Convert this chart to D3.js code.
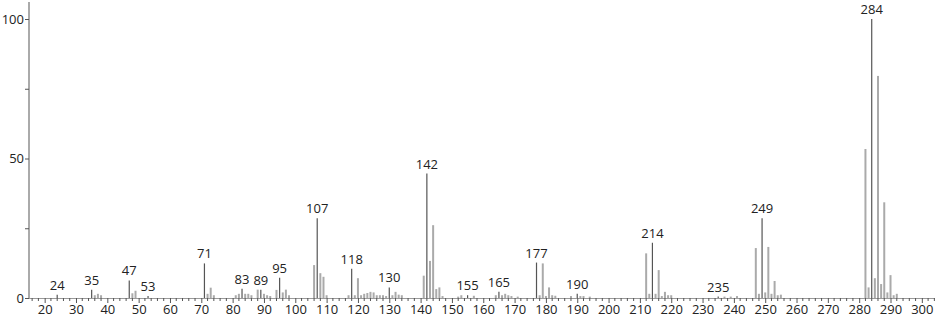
<!DOCTYPE html>
<html>
<head>
<meta charset="utf-8">
<script src="https://cdn.jsdelivr.net/npm/d3@7"></script>
<style>
  body { margin: 0; background: #fff; }
  svg text { font-family: "Open Sans", sans-serif; font-size: 13px; fill: #222; }
</style>
</head>
<body>
<svg id="spectrum" width="940" height="320"></svg>
<script>
const svg = d3.select("#spectrum");

// m/z and relative intensity
const mz = [24, 35, 36, 37, 38, 47, 48, 49, 53, 71, 72, 73, 74,
  81, 82, 83, 84, 85, 86, 88, 89, 90, 91, 92, 94, 95, 96, 97, 98,
  106, 107, 108, 109, 110, 117, 118, 119, 120, 121, 122, 123, 124, 125, 126, 127, 128, 129,
  130, 131, 132, 133, 134, 141, 142, 143, 144, 145, 146, 147,
  152, 153, 155, 157, 164, 165, 166, 167, 168, 169, 171,
  177, 178, 179, 180, 181, 182, 183, 188, 190, 191, 192, 194,
  212, 213, 214, 215, 216, 217, 218, 219, 220, 235, 237, 239, 241,
  247, 248, 249, 250, 251, 252, 253, 254, 255,
  282, 283, 284, 285, 286, 287, 288, 289, 290, 291, 292];
const intensity = [1.2, 3, 1, 1.5, 1, 6.3, 1.7, 2.6, 0.7, 12.4, 1.5, 3.7, 1,
  1, 1.5, 3.3, 1.5, 1.5, 1, 3, 3, 1.5, 1, 0.7, 2.9, 7.3, 2, 3, 1,
  11.8, 28.6, 8.9, 7.6, 1, 1, 10.5, 1, 7.1, 1, 1.5, 1.8, 2.2, 2, 1, 1, 1, 0.7,
  3.8, 1, 2.2, 1.2, 1, 8, 44.6, 13.3, 26.1, 3.2, 3.8, 0.7,
  0.5, 1, 1, 0.8, 1, 2.2, 1, 1.5, 1, 0.7, 0.5,
  12.7, 1, 12.4, 0.7, 3.8, 1, 0.8, 0.7, 1.5, 0.7, 0.7, 0.5,
  16, 1.5, 19.8, 1.5, 10, 0.7, 2.2, 1, 1, 0.5, 0.5, 0.5, 0.7,
  17.9, 1.5, 28.6, 2, 18.3, 1.5, 6.1, 1, 1.2,
  53.4, 3.8, 100, 7.1, 79.6, 5, 34.3, 2, 8.2, 1, 1.5];
const labelled = [24, 35, 47, 53, 71, 83, 89, 95, 107, 118, 130, 142, 155, 165, 177, 190, 214, 235, 249, 284];

const xTicks = d3.range(20, 301, 10);
const yTicks = [0, 50, 100];

const peaks = mz.map((m, i) => ({ mz: m, v: intensity[i], lab: labelled.includes(m) }));

const x = d3.scaleLinear().domain([15, 304.2]).range([29, 935]);
const y = d3.scaleLinear().domain([0, 100]).range([298, 19]);

// axes
svg.append("line").attr("x1", 29).attr("x2", 29).attr("y1", 2).attr("y2", 298)
  .attr("stroke", "#aaa").attr("stroke-width", 2);
svg.append("line").attr("x1", 29).attr("x2", 935).attr("y1", 298.5).attr("y2", 298.5)
  .attr("stroke", "#999").attr("stroke-width", 1);

const yAxis = d3.axisLeft(y).tickValues(d3.range(0, 101, 25)).tickSize(4)
  .tickFormat(d => yTicks.includes(d) ? d : "");
svg.append("g").attr("transform", "translate(29,0)").call(yAxis)
  .call(g => g.select(".domain").remove())
  .call(g => g.selectAll("line").attr("stroke", "#555"))
  .call(g => g.selectAll("text").attr("x", -5).attr("fill", "#222").style("font-size", "13px"));

const minor = d3.range(16, 305, 2).filter(d => d % 10 !== 0);
svg.append("g").selectAll("line").data(minor).join("line")
  .attr("x1", d => x(d)).attr("x2", d => x(d)).attr("y1", 298).attr("y2", 301)
  .attr("stroke", "#555");
const xAxis = d3.axisBottom(x).tickValues(xTicks).tickSize(5);
svg.append("g").attr("transform", "translate(0,298)").call(xAxis)
  .call(g => g.select(".domain").remove())
  .call(g => g.selectAll("line").attr("stroke", "#555"))
  .call(g => g.selectAll("text").attr("y", 7).attr("fill", "#222").style("font-size", "13px"));

// peaks
svg.append("g").selectAll("line").data(peaks).join("line")
  .attr("x1", d => x(d.mz)).attr("x2", d => x(d.mz))
  .attr("y1", y(0)).attr("y2", d => y(d.v))
  .attr("stroke", d => d.lab ? "#555" : "#aaa")
  .attr("stroke-width", d => d.lab ? 1.2 : 2);

svg.append("g").selectAll("text").data(peaks.filter(d => d.lab)).join("text")
  .attr("x", d => x(d.mz)).attr("y", d => y(d.v) - 5)
  .attr("text-anchor", "middle")
  .text(d => d.mz);
</script>
</body>
</html>
